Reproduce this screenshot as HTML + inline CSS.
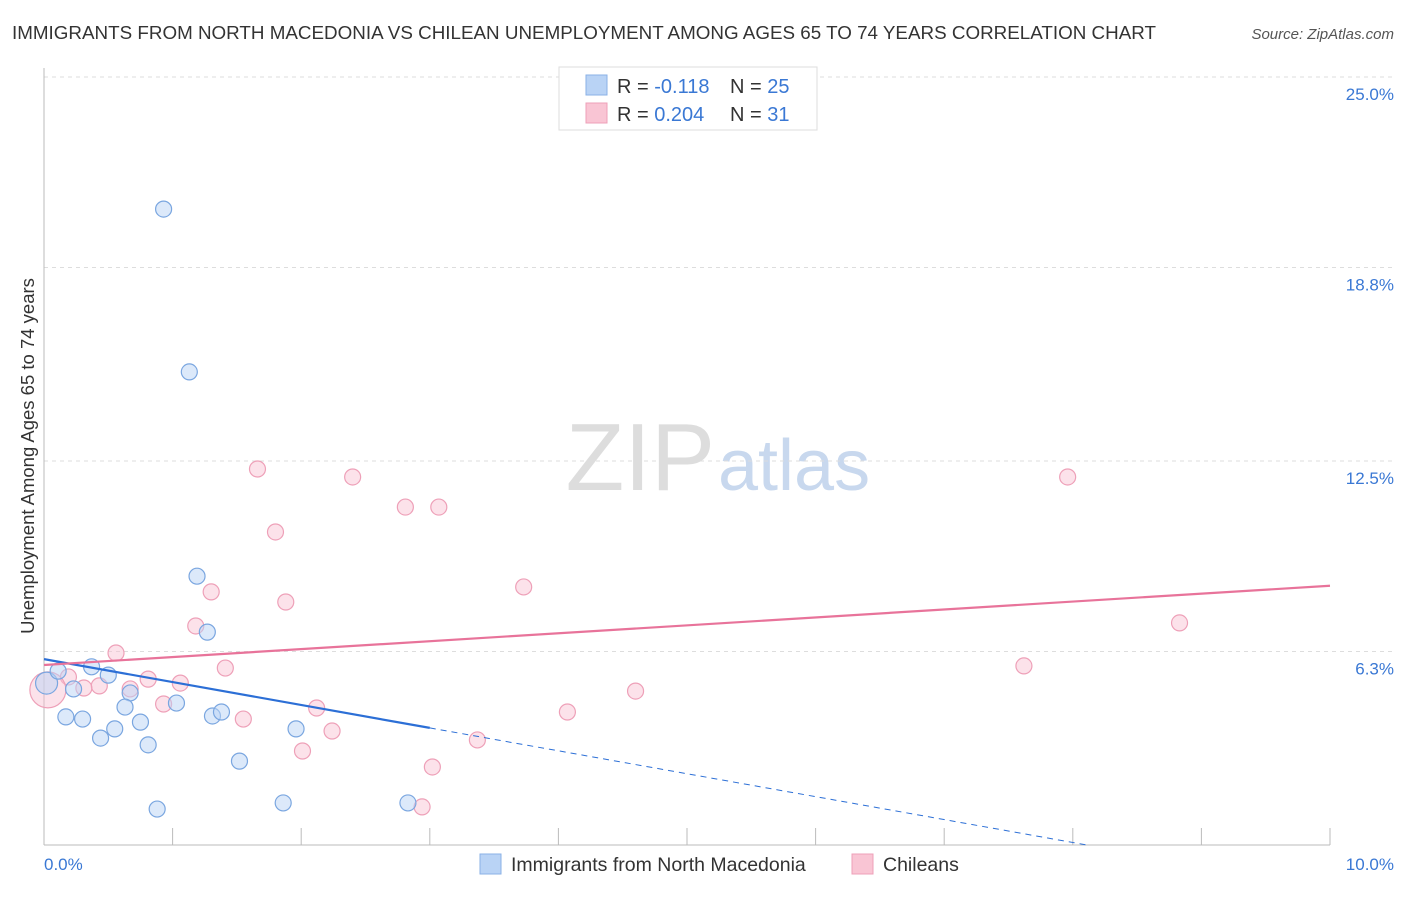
<!DOCTYPE html>
<html><head><meta charset="utf-8"><style>
body{margin:0;background:#fff;font-family:"Liberation Sans",sans-serif;}
svg text{font-family:"Liberation Sans",sans-serif;}
</style></head><body>
<svg width="1406" height="892" xmlns="http://www.w3.org/2000/svg">
<text x="12" y="39" font-size="18" fill="#333" textLength="1144" lengthAdjust="spacingAndGlyphs">IMMIGRANTS FROM NORTH MACEDONIA VS CHILEAN UNEMPLOYMENT AMONG AGES 65 TO 74 YEARS CORRELATION CHART</text>
<text x="1394" y="39" font-size="15" fill="#555" font-style="italic" text-anchor="end">Source: ZipAtlas.com</text>
<text x="715" y="490" font-size="96" fill="#ddd" text-anchor="end" font-family="Liberation Serif">ZIP</text>
<text x="718" y="490" font-size="72" fill="#c8d8ee">atlas</text>
<g id="grid"></g>
<line x1="44" y1="68" x2="44" y2="845" stroke="#bbb"/>
<line x1="44" y1="845" x2="1330" y2="845" stroke="#bbb"/>
<text transform="translate(34,456) rotate(-90)" font-size="18.5" fill="#333" text-anchor="middle">Unemployment Among Ages 65 to 74 years</text>
<text x="44" y="870" font-size="17" fill="#3a78d4">0.0%</text>
<text x="1394" y="870" font-size="17" fill="#3a78d4" text-anchor="end">10.0%</text>
<g id="marks"></g>
<g>
<rect x="559" y="67" width="258" height="63" fill="#fff" stroke="#ddd"/>
<rect x="586" y="75" width="21" height="20" fill="#b9d3f5" stroke="#8ab0e6"/>
<rect x="586" y="103" width="21" height="20" fill="#f9c5d4" stroke="#eea0b8"/>
<text x="617" y="93" font-size="20" fill="#333">R = <tspan fill="#3a78d4">-0.118</tspan></text>
<text x="730" y="93" font-size="20" fill="#333">N = <tspan fill="#3a78d4">25</tspan></text>
<text x="617" y="121" font-size="20" fill="#333">R = <tspan fill="#3a78d4">0.204</tspan></text>
<text x="730" y="121" font-size="20" fill="#333">N = <tspan fill="#3a78d4"> 31</tspan></text>
</g>
<g>
<rect x="480" y="854" width="21" height="20" fill="#b9d3f5" stroke="#8ab0e6"/>
<text x="511" y="871" font-size="19.5" fill="#333">Immigrants from North Macedonia</text>
<rect x="852" y="854" width="21" height="20" fill="#f9c5d4" stroke="#eea0b8"/>
<text x="883" y="871" font-size="19.5" fill="#333">Chileans</text>
</g>
</svg>
<script>
const yTicks=[6.3,12.5,18.8,25.0];
const yTickLabels=["6.3%","12.5%","18.8%","25.0%"];
const xTicks=[1,2,3,4,5,6,7,8,9,10];
const blueX=[0.93,1.13,1.19,1.27,0.02,0.11,0.23,0.37,0.5,0.67,0.17,0.3,0.44,0.55,0.63,0.75,0.81,1.03,1.31,1.38,1.52,1.96,1.86,0.88,2.83];
const blueY=[20.7,15.4,8.75,6.93,5.27,5.66,5.08,5.8,5.53,4.95,4.17,4.1,3.48,3.78,4.49,4.0,3.26,4.62,4.2,4.33,2.73,3.78,1.37,1.17,1.37];
const pinkX=[1.66,2.40,2.81,3.07,1.80,7.96,3.73,1.30,1.88,1.18,8.83,0.56,1.41,7.62,0.81,1.06,0.67,0.43,0.31,0.19,0.03,4.6,0.93,1.55,2.12,4.07,2.24,3.37,2.01,3.02,2.94];
const pinkY=[12.24,11.98,11.0,11.0,10.19,11.98,8.4,8.24,7.91,7.13,7.23,6.25,5.76,5.83,5.4,5.27,5.08,5.18,5.11,5.47,5.05,5.01,4.59,4.1,4.46,4.33,3.71,3.42,3.06,2.54,1.24];
const blueTrend=[6.05,-0.746];
const pinkTrend=[5.86,0.258];
const NS="http://www.w3.org/2000/svg";
const X=v=>44+v*128.6, Y=v=>845-v*30.72;
function mk(tag,attrs,parent){const e=document.createElementNS(NS,tag);for(const k in attrs)e.setAttribute(k,attrs[k]);document.getElementById(parent).appendChild(e);return e;}
yTicks.forEach((t,i)=>{
 const l=mk('line',{x1:44,x2:1394,y1:Y(t),y2:Y(t),stroke:'#ddd','stroke-dasharray':'4,4'},'grid');
 
 
 const tx=mk('text',{x:1394,y:Y(t)+23,'font-size':17,fill:'#3a78d4','text-anchor':'end'},'grid');
 tx.textContent=yTickLabels[i];
 
 
});
xTicks.forEach(t=>{
 const l=mk('line',{x1:X(t),x2:X(t),y1:828,y2:845,stroke:'#bbb'},'grid');
 
 
});
function dot(x,y,r,fill,stroke,name){
 const c=mk('circle',{cx:X(x),cy:Y(y),r:r,fill:fill,stroke:stroke,'stroke-width':1.2},'marks');
 
 
}
pinkX.forEach((x,i)=>dot(x,pinkY[i],i===20?18:8,'rgba(249,190,208,0.45)','#eea0b8','chilean-point'));
blueX.forEach((x,i)=>dot(x,blueY[i],i===4?11:8,'rgba(185,211,245,0.5)','#7aa6e0','macedonia-point'));
let l=mk('line',{x1:X(0),y1:Y(blueTrend[0]),x2:X(3),y2:Y(blueTrend[0]+3*blueTrend[1]),stroke:'#2c6fd6','stroke-width':2.2},'marks');


const xe=-blueTrend[0]/blueTrend[1];
l=mk('line',{x1:X(3),y1:Y(blueTrend[0]+3*blueTrend[1]),x2:X(xe),y2:Y(0),stroke:'#2c6fd6','stroke-width':1,'stroke-dasharray':'6,5'},'marks');


l=mk('line',{x1:X(0),y1:Y(pinkTrend[0]),x2:X(10),y2:Y(pinkTrend[0]+10*pinkTrend[1]),stroke:'#e8739a','stroke-width':2.2},'marks');


</script>
</body></html>
